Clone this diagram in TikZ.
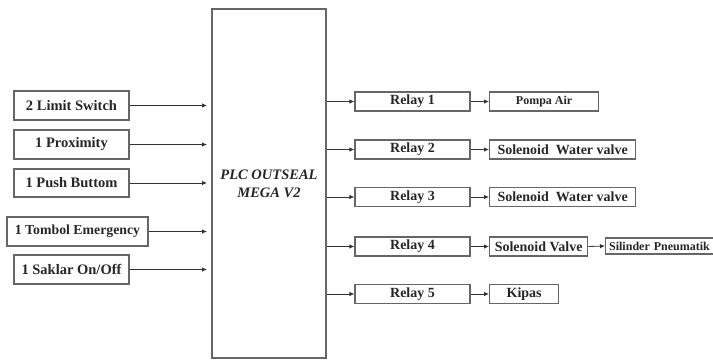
\documentclass[tikz,border=0pt]{standalone}
\usepackage{fontspec}
\setmainfont{Liberation Serif}
\usetikzlibrary{arrows.meta}
\begin{document}
\begin{tikzpicture}[x=1pt,y=-1pt,
  box/.style={draw=black!60,line width=1.3pt,inner sep=0pt,font=\fontsize{14}{16}\selectfont\bfseries,text=black!85},
  inbox/.style={box,minimum width=115pt,minimum height=29pt,font=\fontsize{14.5}{16}\selectfont\bfseries},
  relaybox/.style={box,minimum width=115pt,minimum height=19pt},
  outbox/.style={box,minimum height=19pt,anchor=west},
  arr/.style={draw=black!80,line width=0.8pt,-{Latex[length=5pt,width=4.5pt]}}]
\useasboundingbox (0,0) rectangle (713,360);
% inputs
\node[inbox] (lim) at (71.5,105.5) {2 Limit Switch};
\node[inbox] (prox) at (71.5,144.5) {1 Proximity};
\node[inbox,minimum height=28pt] (push) at (71.5,183) {1 Push Buttom};
\node[inbox,minimum width=141pt,font=\fontsize{13.8}{16}\selectfont\bfseries] (emer) at (77.5,231.5) {1 Tombol Emergency};
\node[inbox] (sak) at (71.5,269.5) {1 Saklar On/Off};
% PLC
\node[box,minimum width=114pt,minimum height=349pt,align=center,
  font=\fontsize{14.5}{18}\selectfont\bfseries\itshape] (plc) at (269,183.5) {PLC OUTSEAL\\MEGA V2};
\coordinate (i1) at (207,105.5);
\coordinate (i2) at (207,144.5);
\coordinate (i3) at (207,183);
\coordinate (i4) at (207,231.5);
\coordinate (i5) at (207,269.5);
\draw[arr] (lim.east) -- (i1);
\draw[arr] (prox.east) -- (i2);
\draw[arr] (push.east) -- (i3);
\draw[arr] (emer.east) -- (i4);
\draw[arr] (sak.east) -- (i5);
% relays
\node[relaybox] (r1) at (412.5,101.5) {Relay 1};
\node[relaybox] (r2) at (412.5,149.5) {Relay 2};
\node[relaybox] (r3) at (412.5,197) {Relay 3};
\node[relaybox] (r4) at (412.5,246.5) {Relay 4};
\node[relaybox] (r5) at (412.5,294) {Relay 5};
\foreach \r in {r1,r2,r3,r4,r5}{
  \draw[arr] (plc.east |- \r.west) -- (\r.west);
}
% outputs
\node[outbox,minimum width=109pt,font=\fontsize{12}{14}\selectfont\bfseries] (o1) at (489,101.5) {Pompa Air};
\node[outbox,minimum width=146pt] (o2) at (489,149.5) {Solenoid~ Water valve};
\node[outbox,minimum width=146pt] (o3) at (489,197) {Solenoid~ Water valve};
\node[outbox,minimum width=98pt] (o4) at (489,246.5) {Solenoid Valve};
\node[outbox,minimum width=69pt] (o5) at (489,294) {Kipas};
\node[outbox,minimum width=125pt,minimum height=16pt,align=left,text width=118pt,inner xsep=3pt,
  font=\fontsize{12}{14}\selectfont\bfseries] (o6) at (605,246) {Silinder Pneumatik};
\draw[arr] (r1.east) -- (o1.west);
\draw[arr] (r2.east) -- (o2.west);
\draw[arr] (r3.east) -- (o3.west);
\draw[arr] (r4.east) -- (o4.west);
\draw[arr] (r5.east) -- (o5.west);
\draw[arr] (o4.east) -- (o6.west);
\end{tikzpicture}
\end{document}
